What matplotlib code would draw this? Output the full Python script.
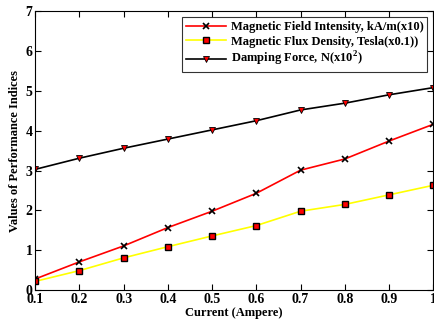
import matplotlib
matplotlib.use("Agg")
import matplotlib.pyplot as plt

current = [0.1, 0.2, 0.3, 0.4, 0.5, 0.6, 0.7, 0.8, 0.9, 1.0]
field_intensity = [0.28, 0.71, 1.11, 1.57, 1.98, 2.43, 3.01, 3.29, 3.74, 4.16]
flux_density = [0.22, 0.49, 0.81, 1.09, 1.36, 1.62, 1.98, 2.15, 2.39, 2.63]
damping_force = [3.03, 3.31, 3.56, 3.79, 4.02, 4.25, 4.52, 4.69, 4.90, 5.08]

x_ticks = [0.1, 0.2, 0.3, 0.4, 0.5, 0.6, 0.7, 0.8, 0.9, 1.0]
x_labels = ["0.1", "0.2", "0.3", "0.4", "0.5", "0.6", "0.7", "0.8", "0.9", "1"]
y_ticks = [0, 1, 2, 3, 4, 5, 6, 7]

plt.rcParams['font.family'] = ['Liberation Serif', 'DejaVu Serif']
plt.rcParams['font.weight'] = 'bold'
plt.rcParams['mathtext.fontset'] = 'custom'
plt.rcParams['mathtext.rm'] = 'Liberation Serif'
plt.rcParams['mathtext.bf'] = 'Liberation Serif:bold'

fig = plt.figure(figsize=(4.35, 3.26), dpi=100)
ax = fig.add_axes([0.081, 0.110, 0.915, 0.856])

ax.plot(current, field_intensity, color='red', lw=1.2, marker='x', ms=5,
        mec='black', mew=1.2, label='Magnetic Field Intensity, kA/m(x10)')
ax.plot(current, flux_density, color='yellow', lw=1.2, marker='s', ms=4.5,
        mfc='red', mec='black', mew=1.0, label='Magnetic Flux Density, Tesla(x0.1))')
ax.plot(current, damping_force, color='black', lw=1.2, marker='v', ms=4,
        mfc='red', mec='black', mew=0.6, label=r'Damping Force, N(x10$^\mathbf{2}$)')

ax.set_xlim(0.1, 1.0)
ax.set_ylim(0, 7)
ax.set_xticks(x_ticks)
ax.set_xticklabels(x_labels)
ax.set_yticks(y_ticks)
ax.tick_params(direction='in', top=True, right=True, labelsize=10, length=4, pad=2)
for lab in ax.get_xticklabels() + ax.get_yticklabels():
    lab.set_fontweight('bold')
ax.set_xlabel('Current (Ampere)', fontsize=9, fontweight='bold', labelpad=1)
ax.set_ylabel('Values of Performance Indices', fontsize=9, fontweight='bold', labelpad=3)

leg = ax.legend(loc='upper right', fontsize=9, frameon=True, fancybox=False,
                edgecolor='black', borderpad=0.3, labelspacing=0.2,
                handlelength=3.2, handletextpad=0.4, borderaxespad=0.5)
leg.get_frame().set_linewidth(0.8)
for t in leg.get_texts():
    t.set_fontweight('bold')

fig.savefig('out.png', dpi=100)
